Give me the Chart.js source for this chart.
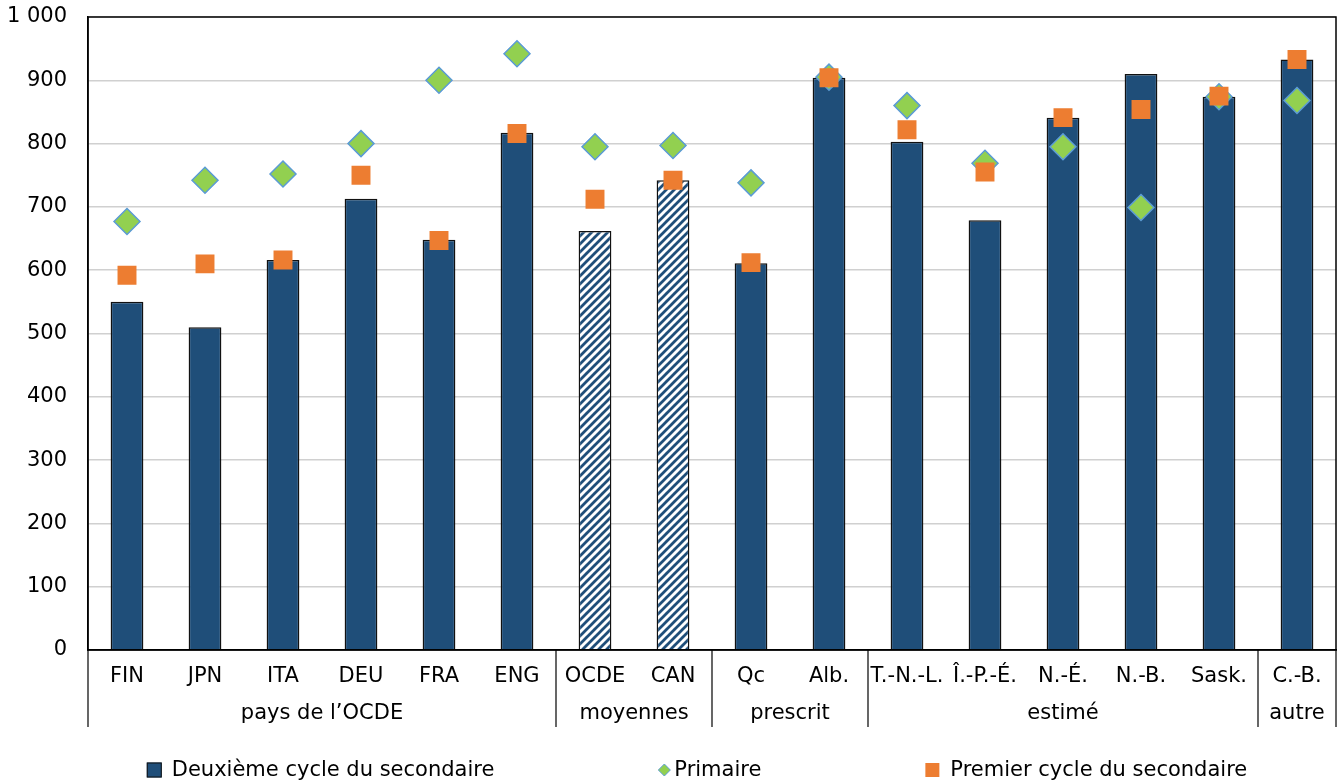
<!DOCTYPE html>
<html lang="fr">
<head>
<meta charset="utf-8">
<script src="https://cdn.jsdelivr.net/npm/chart.js@4/dist/chart.umd.min.js"></script>
<style>
    html, body { margin: 0; padding: 0; background: #fff; overflow: hidden; }
    canvas { display: block; }
</style>
</head>
<body>
<canvas id="chart" width="1338" height="783"></canvas>
<script>
const categories = ['FIN', 'JPN', 'ITA', 'DEU', 'FRA', 'ENG', 'OCDE', 'CAN', 'Qc', 'Alb.',
    'T.-N.-L.', 'Î.-P.-É.', 'N.-É.', 'N.-B.', 'Sask.', 'C.-B.'];
const deuxiemeCycle = [550, 510, 616, 713, 648, 817, 662, 742, 611, 904, 803, 679, 841, 910, 874, 933];
const primaire = [677, 742, 752, 800, 900, 942, 795, 797, 738, 905, 860, 769, 795, 699, 874, 868];
const premierCycle = [592, 610, 616, 750, 647, 816, 712, 742, 612, 904, 822, 755, 841, 854, 875, 933];
const averageCategories = ['OCDE', 'CAN'];
const groupLabels = ['pays de l’OCDE', 'moyennes', 'prescrit', 'estimé', 'autre'];
const groupSizes = [6, 2, 2, 5, 1];
const seriesNames = ['Deuxième cycle du secondaire', 'Primaire', 'Premier cycle du secondaire'];

const NAVY = '#1f4e79';
const GREEN = '#92d050';
const BLUE = '#5b9bd5';
const ORANGE = '#ed7d31';
const FONT = 'DejaVu Sans';
const FONT_SIZE = 21;

function makeHatch() {
    const s = 8;
    const c = document.createElement('canvas');
    c.width = s;
    c.height = s;
    const g = c.getContext('2d');
    g.fillStyle = '#fff';
    g.fillRect(0, 0, s, s);
    g.strokeStyle = NAVY;
    g.lineWidth = 2.8;
    g.beginPath();
    g.moveTo(0, s); g.lineTo(s, 0);
    g.moveTo(-2, 2); g.lineTo(2, -2);
    g.moveTo(s - 2, s + 2); g.lineTo(s + 2, s - 2);
    g.stroke();
    return g.createPattern(c, 'repeat');
}
const hatch = makeHatch();

const barColors = categories.map(c => averageCategories.includes(c) ? hatch : NAVY);

// marker width and gap before the text, per legend entry
const legendMarkerWidths = [15, 12, 14];
const legendTextGaps = [10, 4, 11];

function drawLegendMarker(ctx, kind, x, cy) {
    ctx.save();
    if (kind === 0) {
        ctx.fillStyle = NAVY;
        ctx.fillRect(x, cy - 7.5, 15, 15);
        ctx.strokeStyle = '#111';
        ctx.lineWidth = 1;
        ctx.strokeRect(x + 0.5, cy - 7, 14, 14);
    } else if (kind === 1) {
        ctx.fillStyle = GREEN;
        ctx.strokeStyle = BLUE;
        ctx.lineWidth = 1;
        ctx.beginPath();
        ctx.moveTo(x + 6, cy - 6);
        ctx.lineTo(x + 12, cy);
        ctx.lineTo(x + 6, cy + 6);
        ctx.lineTo(x, cy);
        ctx.closePath();
        ctx.fill();
        ctx.stroke();
    } else {
        ctx.fillStyle = ORANGE;
        ctx.fillRect(x, cy - 7, 14, 14);
    }
    ctx.restore();
}

const decorations = {
    id: 'decorations',
    afterDraw(chart) {
        const { ctx, chartArea } = chart;
        const x = chart.scales.x;
        ctx.save();

        // frame round the plot
        ctx.strokeStyle = '#000';
        ctx.lineWidth = 1.5;
        ctx.strokeRect(chartArea.left, chartArea.top, chartArea.right - chartArea.left, chartArea.bottom - chartArea.top);

        // group separators and labels
        const bottom = chartArea.bottom + 77;
        const edges = [chartArea.left];
        let idx = 0;
        ctx.font = FONT_SIZE + 'px "' + FONT + '"';
        groupSizes.forEach((n, g) => {
            const first = idx;
            const last = idx + n - 1;
            idx += n;
            const right = idx < categories.length
                ? (x.getPixelForValue(last) + x.getPixelForValue(idx)) / 2
                : chartArea.right;
            edges.push(right);
            const center = (x.getPixelForValue(first) + x.getPixelForValue(last)) / 2;
            ctx.fillStyle = '#000';
            ctx.textAlign = 'center';
            ctx.textBaseline = 'middle';
            ctx.fillText(groupLabels[g], center, chartArea.bottom + 64);
        });
        ctx.lineWidth = 1.2;
        edges.forEach(ex => {
            ctx.beginPath();
            ctx.moveTo(ex, chartArea.bottom);
            ctx.lineTo(ex, bottom);
            ctx.stroke();
        });

        // legend
        ctx.textAlign = 'left';
        const gap = 164;
        const widths = seriesNames.map((s, i) => legendMarkerWidths[i] + legendTextGaps[i] + ctx.measureText(s).width);
        const total = widths.reduce((a, b) => a + b, 0) + gap * (widths.length - 1);
        let lx = 697 - total / 2;
        const ly = 770;
        seriesNames.forEach((s, i) => {
            drawLegendMarker(ctx, i, lx, ly);
            ctx.fillStyle = '#000';
            ctx.fillText(s, lx + legendMarkerWidths[i] + legendTextGaps[i], ly + 1);
            lx += widths[i] + gap;
        });
        ctx.restore();
    }
};

new Chart(document.getElementById('chart'), {
    type: 'bar',
    data: {
        labels: categories,
        datasets: [
            {
                label: seriesNames[0],
                data: deuxiemeCycle,
                backgroundColor: barColors,
                borderColor: '#111',
                borderWidth: 1.5,
                barPercentage: 0.42,
                categoryPercentage: 1,
                order: 3
            },
            {
                type: 'line',
                label: seriesNames[1],
                data: primaire,
                showLine: false,
                pointStyle: 'rectRot',
                pointRadius: 13,
                pointHoverRadius: 13,
                backgroundColor: GREEN,
                borderColor: BLUE,
                borderWidth: 1.5,
                order: 2
            },
            {
                type: 'line',
                label: seriesNames[2],
                data: premierCycle,
                showLine: false,
                pointStyle: 'rect',
                pointRadius: 13.4,
                pointHoverRadius: 13.4,
                backgroundColor: ORANGE,
                borderColor: ORANGE,
                borderWidth: 0,
                order: 1
            }
        ]
    },
    options: {
        responsive: false,
        animation: false,
        layout: {
            autoPadding: false,
            padding: { top: 17, right: 2, left: 0, bottom: 0 }
        },
        plugins: {
            legend: { display: false },
            tooltip: { enabled: false }
        },
        scales: {
            x: {
                grid: { display: false, drawTicks: false },
                border: { color: '#000', width: 1.5 },
                ticks: {
                    color: '#000',
                    font: { family: FONT, size: FONT_SIZE },
                    padding: 14,
                    maxRotation: 0,
                    autoSkip: false
                },
                afterFit: scale => {
                    scale.height = 133;
                    scale.paddingLeft = 0;
                    scale.paddingRight = 0;
                }
            },
            y: {
                min: 0,
                max: 1000,
                grid: { color: '#d0d0d0', lineWidth: 1.5, drawTicks: false },
                border: { color: '#000', width: 1.5 },
                ticks: {
                    stepSize: 100,
                    color: '#000',
                    font: { family: FONT, size: FONT_SIZE },
                    padding: 21,
                    callback: v => v >= 1000 ? '1 000' : String(v)
                },
                afterFit: scale => {
                    scale.width = 88;
                    scale.paddingTop = 0;
                    scale.paddingBottom = 0;
                }
            }
        }
    },
    plugins: [decorations]
});
</script>
</body>
</html>
